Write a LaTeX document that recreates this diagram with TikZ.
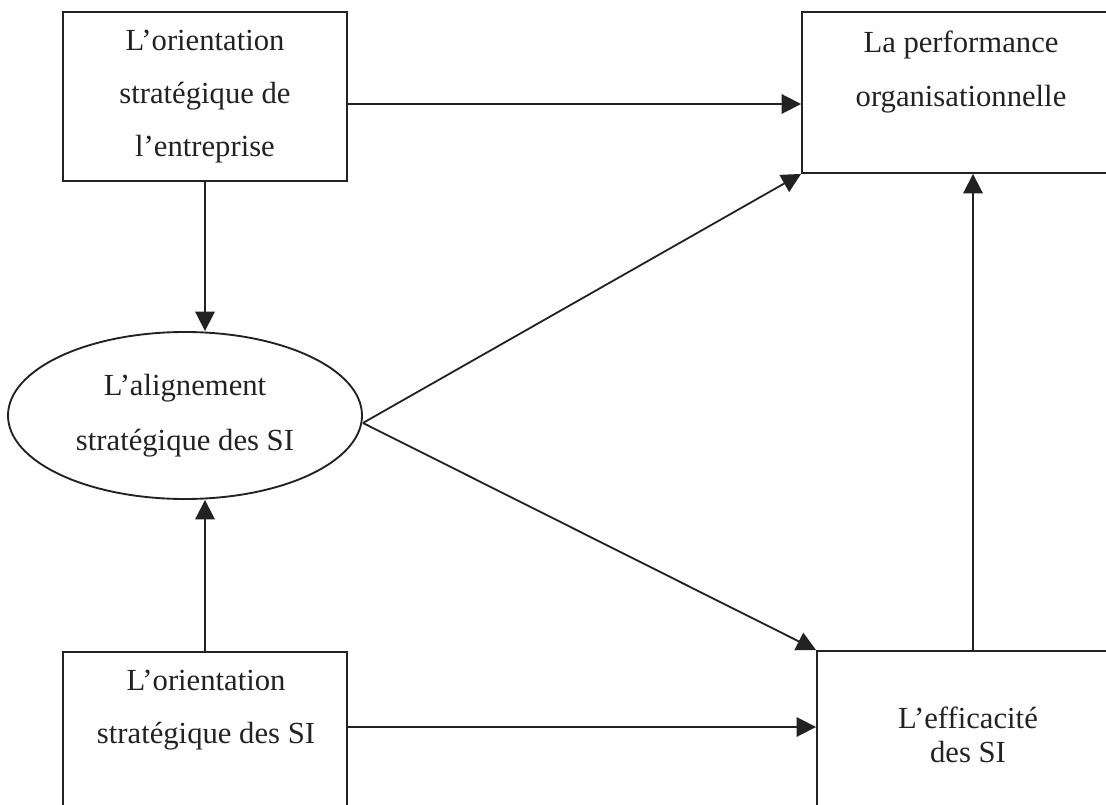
\documentclass[tikz,border=0pt]{standalone}
\usepackage{fontspec}
\setmainfont{Liberation Serif}
\usetikzlibrary{arrows.meta,shapes.geometric}
\definecolor{ink}{HTML}{222222}
\begin{document}
\begin{tikzpicture}[x=0.75pt,y=-0.75pt,
  box/.style={draw=ink, line width=1.4pt, inner sep=0pt, rectangle},
  oval/.style={draw=ink, line width=1.4pt, inner sep=0pt, ellipse},
  lbl/.style={align=center, text=ink, font=\fontsize{23}{39.75}\selectfont},
  conn/.style={draw=ink, line width=1.35pt, -{Triangle[length=14.5pt,width=14.5pt]}}]
  \useasboundingbox (0,0) rectangle (1106,805);
  \clip (0,0) rectangle (1106,805);

  % boxes and the ellipse
  \node[box, lbl, minimum width=213pt, minimum height=126.75pt] (tl) at (205,96.5)
    {L’orientation\\stratégique de\\l’entreprise};
  \node[box, minimum width=246pt, minimum height=120.75pt] (tr) at (966,92.5) {};
  \node[lbl, font=\fontsize{23}{40.5}\selectfont] (trtext) at (961,72)
    {La performance\\organisationnelle};
  \node[oval, lbl, font=\fontsize{23}{41}\selectfont,
        minimum width=265.5pt, minimum height=125.25pt] (ell) at (185,415.5)
    {L’alignement\\stratégique des SI};
  \node[box, minimum width=213pt, minimum height=133.5pt] (bl) at (205,741) {};
  \node[lbl] (bltext) at (206,710) {L’orientation\\stratégique des SI};
  \node[box, minimum width=234.75pt, minimum height=134.25pt] (br) at (973.5,740.5) {};
  \node[lbl, font=\fontsize{23}{25.5}\selectfont] (brtext) at (968,735)
    {L’efficacité\\des SI};

  % connectors
  \draw[conn] ([yshift=-5.625pt]tl.east) -- ([yshift=-5.625pt]tl.east -| tr.west);
  \draw[conn] (tl.south) -- (tl.south |- ell.north);
  \draw[conn] (bl.north) -- (bl.north |- ell.south);
  \draw[conn] ([yshift=10.5pt]bl.east) -- ([yshift=10.5pt]bl.east -| br.west);
  \draw[conn] ([yshift=-5.6pt]ell.east) -- (tr.south west);
  \draw[conn] ([yshift=-5.6pt]ell.east) -- (br.north west);
  \draw[conn] ([xshift=-0.375pt]br.north) -- ([xshift=-0.375pt]br.north |- tr.south);
\end{tikzpicture}
\end{document}
